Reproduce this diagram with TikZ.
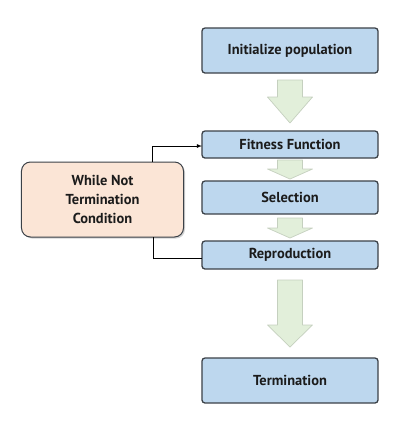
\documentclass[tikz,border=0pt]{standalone}
\usepackage{fontspec}
\setmainfont{PT Sans}
\usepackage{tikz}
\usetikzlibrary{shapes, arrows, positioning, calc, shadows}
\definecolor{boxblue}{HTML}{BDD7EE}
\definecolor{boxline}{HTML}{3B4148}
\definecolor{condfill}{HTML}{FBE5D6}
\definecolor{flowfill}{HTML}{E2EFDA}
\definecolor{flowline}{HTML}{C5D0BF}
\definecolor{textdark}{HTML}{1B1B1B}

\begin{document}
\begin{tikzpicture}[x=1bp, y=1bp, node distance=23bp and 20bp,
	box/.style={draw=boxline, fill=boxblue, rounded corners=3bp, line width=1.3bp, outer sep=0pt,
		minimum width=176bp, text=textdark, font=\bfseries\fontsize{14.5}{17}\selectfont},
	cond/.style={draw=boxline, fill=condfill, rounded corners=9bp, line width=1bp, outer sep=0pt,
		text=textdark, align=center, font=\bfseries\fontsize{14.5}{19}\selectfont,
		drop shadow={shadow xshift=1.5bp, shadow yshift=-1.5bp, fill=black!35}},
	flow/.style={draw=flowline, fill=flowfill, line width=0.7bp, line join=round}]
	\useasboundingbox (0,0) rectangle (406,-424);
	\node[box, minimum height=45bp] (init) at (290,-50.5) {Initialize population};
	\node[box, minimum height=27bp, below=58bp of init] (fit) {Fitness Function};
	\node[box, minimum height=33bp, below=23bp of fit] (sel) {Selection};
	\node[box, minimum height=28bp, below=27bp of sel] (rep) {Reproduction};
	\node[box, minimum height=45bp, below=89bp of rep] (term) {Termination};
	\node[cond, minimum width=162bp, minimum height=75bp] (cond) at (102.5,-199.5)
		{While Not\\Termination\\Condition};
	% block arrows between the steps: gap / shaft / head
	\foreach \from/\g/\s/\h in {init/7/17/26, fit/2/9/10, sel/4/10/10, rep/11/45/22}
		\draw[flow] ($(\from.south)+(-12.5,-\g)$) -- ++(0,-\s) -- ++(-10,0) -- ++(22.5,-\h)
			-- ++(22.5,\h) -- ++(-10,0) -- ++(0,\s) -- cycle;
	% loop
	\draw[-latex, line width=0.8bp] ([xshift=50bp]cond.north) |- ([yshift=-1.5bp]fit.west);
	\draw[line width=0.8bp] ([xshift=51bp]cond.south) |- ([yshift=-3bp]rep.west);
\end{tikzpicture}
\end{document}
